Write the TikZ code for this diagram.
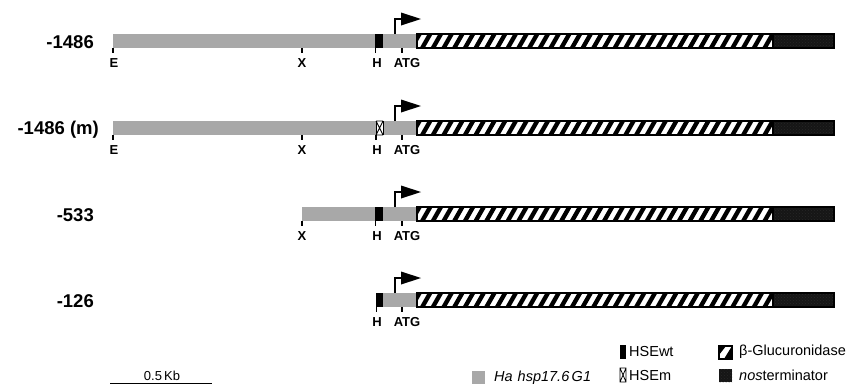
\documentclass[tikz,border=0pt]{standalone}
\usepackage{fontspec}
\setmainfont{Liberation Sans}
\usetikzlibrary{patterns}
\definecolor{promgrey}{RGB}{168,168,168}
\definecolor{termdark}{RGB}{22,22,22}
\tikzset{
  rowlbl/.style={font=\bfseries\fontsize{18.5}{20}\selectfont, inner sep=0pt},
  sitelbl/.style={font=\bfseries\fontsize{13}{14}\selectfont, inner sep=0pt},
  leglbl/.style={font=\fontsize{14.5}{16}\selectfont, inner sep=0pt, anchor=west},
  sitetick/.style={line width=1.3pt},
  outl/.style={line width=1.3pt},
}
% grey promoter bar: #1 start x, #2 centre y
\newcommand{\prombar}[2]{\fill[promgrey] (#1,#2-7) rectangle (417,#2+7);}
% GUS hatched bar + nos terminator: #1 centre y
\newcommand{\gusbar}[1]{%
  \fill[white] (417,#1-7) rectangle (773,#1+7);
  \begin{scope}
    \clip (417,#1-7) rectangle (773,#1+7);
    \foreach \k in {0,...,35}{
      \fill[black] ({409+\k*10.7},#1+7) -- ++(5,0) -- ++(8,-14) -- ++(-5,0) -- cycle;
    }
  \end{scope}
  \draw[outl] (417,#1-7) rectangle (773,#1+7);
  \fill[termdark] (773,#1-7) rectangle (834,#1+7);
  \fill[pattern=crosshatch dots, pattern color=gray!30!black] (773,#1-7) rectangle (834,#1+7);
  \draw[outl] (773,#1-7) rectangle (834,#1+7);
}
% transcription start arrow: #1 centre y
\newcommand{\promarrow}[1]{%
  \draw[line width=1.2pt] (395,#1-7) -- (395,#1-22) -- (402,#1-22);
  \fill[black] (401,#1-28.5) -- (421,#1-22) -- (401,#1-15.5) -- cycle;
}
% tick: #1 x, #2 centre y
\newcommand{\sitetickat}[2]{\draw[sitetick] (#1,#2+7) -- (#1,#2+12);}
\begin{document}
\begin{tikzpicture}[x=1pt,y=-1pt]
\useasboundingbox (0,0) rectangle (861,386);

% ---------- row 1: -1486 ----------
\prombar{113}{41}
\fill[black] (375,34) rectangle (383,48);
\gusbar{41}
\promarrow{41}
\sitetickat{113}{41}\sitetickat{302}{41}\sitetickat{375.5}{41}\sitetickat{402}{41}
\node[rowlbl, anchor=east] (r1lbl) at (94,42.5) {-1486};
\node[sitelbl] (r1E) at (114,63) {E};
\node[sitelbl] (r1X) at (302,63) {X};
\node[sitelbl] (r1H) at (377,63) {H};
\node[sitelbl] (r1A) at (407,63) {ATG};

% ---------- row 2: -1486 (m) ----------
\prombar{113}{128}
\fill[white] (376,121) rectangle (383,135);
\draw[line width=0.9pt] (376,121) -- (383,121) (376,135) -- (383,135)
      (376,121) -- (383,135) (383,121) -- (376,135);
\draw[line width=0.4pt] (376,121) -- (376,135) (383,121) -- (383,135);
\gusbar{128}
\promarrow{128}
\sitetickat{113}{128}\sitetickat{302}{128}\sitetickat{376}{128}\sitetickat{402}{128}
\node[rowlbl, anchor=east] (r2lbl) at (99,129.5) {-1486 (m)};
\node[sitelbl] (r2E) at (114,150) {E};
\node[sitelbl] (r2X) at (302,150) {X};
\node[sitelbl] (r2H) at (377,150) {H};
\node[sitelbl] (r2A) at (407,150) {ATG};

% ---------- row 3: -533 ----------
\prombar{302}{214}
\fill[black] (375,207) rectangle (383,221);
\gusbar{214}
\promarrow{214}
\sitetickat{302}{214}\sitetickat{375.5}{214}\sitetickat{402}{214}
\node[rowlbl, anchor=east] (r3lbl) at (94,215.5) {-533};
\node[sitelbl] (r3X) at (302,236) {X};
\node[sitelbl] (r3H) at (377,236) {H};
\node[sitelbl] (r3A) at (407,236) {ATG};

% ---------- row 4: -126 ----------
\prombar{376}{300}
\fill[black] (376,293) rectangle (383,307);
\gusbar{300}
\promarrow{300}
\sitetickat{376.5}{300}\sitetickat{402}{300}
\node[rowlbl, anchor=east] (r4lbl) at (94,301.5) {-126};
\node[sitelbl] (r4H) at (377,322) {H};
\node[sitelbl] (r4A) at (407,322) {ATG};

% ---------- scale bar ----------
\coordinate (sbL) at (110,383);
\coordinate (sbR) at (212,383);
\draw[line width=0.8pt] (sbL) -- (sbR);
\node[font=\fontsize{13}{14}\selectfont, inner sep=0pt, anchor=south] (sblbl) at (162,380.5) {0.5\,Kb};

% ---------- legend ----------
\fill[promgrey] (472,371) rectangle (485,384);
\node[leglbl] (lgHa) at (494,378) {\textit{Ha}\hspace{5pt}\textit{hsp17.6\,G1}};

\fill[black] (620,345) rectangle (626,359);
\node[leglbl] (lgwt) at (629,352) {HSEwt};
\fill[white] (620,368) rectangle (626,382);
\draw[line width=0.8pt] (620,368) rectangle (626,382) (620,368) -- (626,382) (626,368) -- (620,382);
\node[leglbl] (lgm) at (629,375) {HSEm};

\begin{scope}
  \clip (719,346) rectangle (732,359);
  \fill[white] (719,346) rectangle (732,359);
  \fill[black] (719,359) -- (724,359) -- (732,346) -- (732,359) -- cycle;
  \fill[black] (719,346) -- (726,346) -- (719,355) -- cycle;
\end{scope}
\draw[line width=1.2pt] (719,346) rectangle (732,359);
\node[leglbl] (lggus) at (739,352) {β-Glucuronidase};

\fill[termdark] (719,369) rectangle (732,382);
\fill[pattern=crosshatch dots, pattern color=gray!30!black] (719,369) rectangle (732,382);
\node[leglbl] (lgnos) at (739,375) {\textit{nos}terminator};
\end{tikzpicture}
\end{document}
